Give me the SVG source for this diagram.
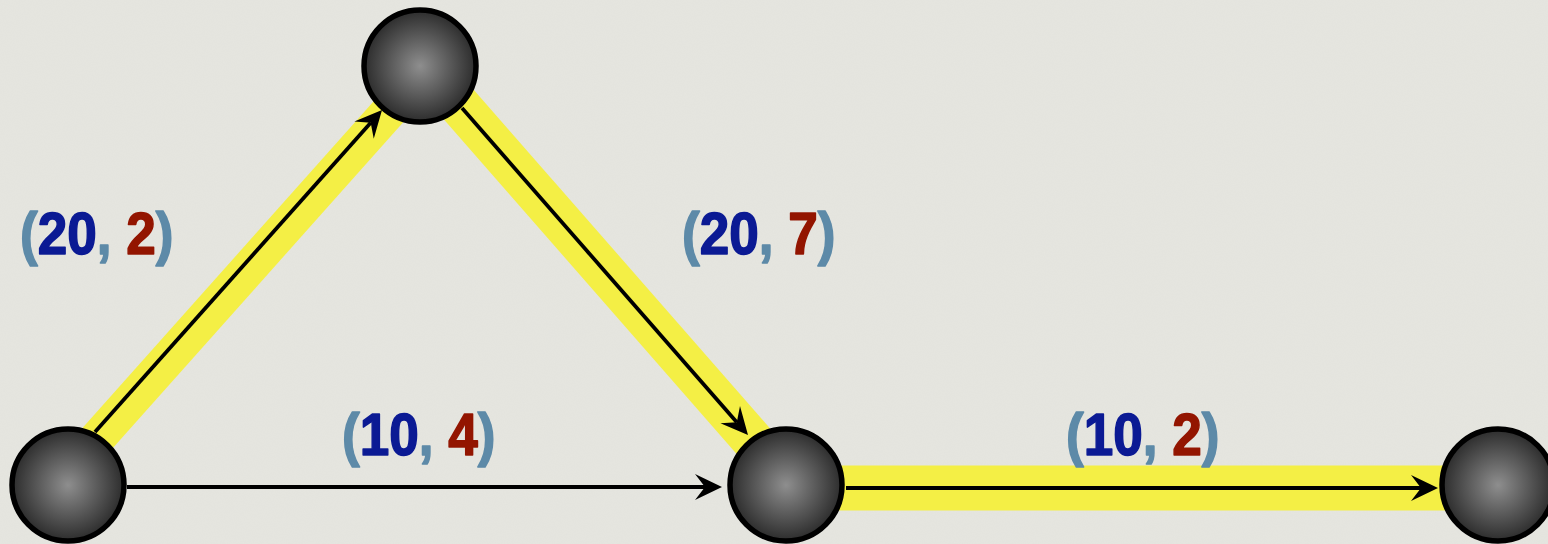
<svg xmlns="http://www.w3.org/2000/svg" width="1548" height="544" viewBox="0 0 1548 544">
  <style>
    .hl { stroke: #f4ef45; fill: none; stroke-linecap: butt; }
    .edge { stroke: #000; stroke-width: 3.8; fill: none; marker-end: url(#arrow); }
    .node { fill: url(#ball); stroke: #000; stroke-width: 5.5; }
    .lbl { font-family: 'Liberation Sans', Arial, sans-serif; font-weight: bold; font-size: 60px; stroke-width: 1.6; stroke-linejoin: round; }
    .p { fill: #5d8aa8; stroke: #5d8aa8; }
    .b { fill: #0b1a94; stroke: #0b1a94; }
    .r { fill: #931500; stroke: #931500; }
  </style>
  <defs>
    <radialGradient id="ball" cx="50%" cy="50%" r="50%">
      <stop offset="0" stop-color="#8e8e8e"/>
      <stop offset="1" stop-color="#2c2c2c"/>
    </radialGradient>
    <marker id="arrow" markerUnits="userSpaceOnUse" viewBox="-11 -14 29 28" refX="0" refY="0" markerWidth="29" markerHeight="28" orient="auto">
      <path d="M17,0 L-10,-13 L0,0 L-10,13 Z" fill="#000"/>
    </marker>
    <filter id="grain" x="0" y="0" width="100%" height="100%">
      <feTurbulence type="fractalNoise" baseFrequency="0.9" numOctaves="2" seed="3"/>
      <feColorMatrix type="matrix" values="0 0 0 0 0.5  0 0 0 0 0.5  0 0 0 0 0.48  0 0 0 0.07 0"/>
    </filter>
  </defs>
  <rect x="0" y="0" width="1548" height="544" fill="#e6e6e0"/>
  <rect x="0" y="0" width="1548" height="544" filter="url(#grain)"/>

  <g id="connectors">
    <line class="hl" x1="62" y1="478" x2="415" y2="82" stroke-width="36"/>
    <line class="hl" x1="425" y1="66" x2="790" y2="483" stroke-width="42"/>
    <line class="hl" x1="786" y1="488" x2="1498" y2="488" stroke-width="45"/>
    <line class="edge" x1="95" y1="432" x2="370.7" y2="122.7"/>
    <line class="edge" x1="462" y1="108" x2="736.8" y2="422.2"/>
    <line class="edge" x1="127" y1="487" x2="705" y2="487"/>
    <line class="edge" x1="846" y1="488" x2="1421" y2="488"/>
  </g>

  <g id="node-a"><circle class="node" cx="68" cy="485" r="56"/></g>
  <g id="node-b"><circle class="node" cx="420" cy="66" r="56"/></g>
  <g id="node-c"><circle class="node" cx="786" cy="485" r="56"/></g>
  <g id="node-d"><circle class="node" cx="1498" cy="485" r="56"/></g>

  <g id="labels">
    <text class="lbl" transform="translate(20,254) scale(0.885,1)"><tspan class="p">(</tspan><tspan class="b">20</tspan><tspan class="p">, </tspan><tspan class="r">2</tspan><tspan class="p">)</tspan></text>
    <text class="lbl" transform="translate(682,254) scale(0.885,1)"><tspan class="p">(</tspan><tspan class="b">20</tspan><tspan class="p">, </tspan><tspan class="r">7</tspan><tspan class="p">)</tspan></text>
    <text class="lbl" transform="translate(342,455) scale(0.885,1)"><tspan class="p">(</tspan><tspan class="b">10</tspan><tspan class="p">, </tspan><tspan class="r">4</tspan><tspan class="p">)</tspan></text>
    <text class="lbl" transform="translate(1066,455) scale(0.885,1)"><tspan class="p">(</tspan><tspan class="b">10</tspan><tspan class="p">, </tspan><tspan class="r">2</tspan><tspan class="p">)</tspan></text>
  </g>
</svg>
